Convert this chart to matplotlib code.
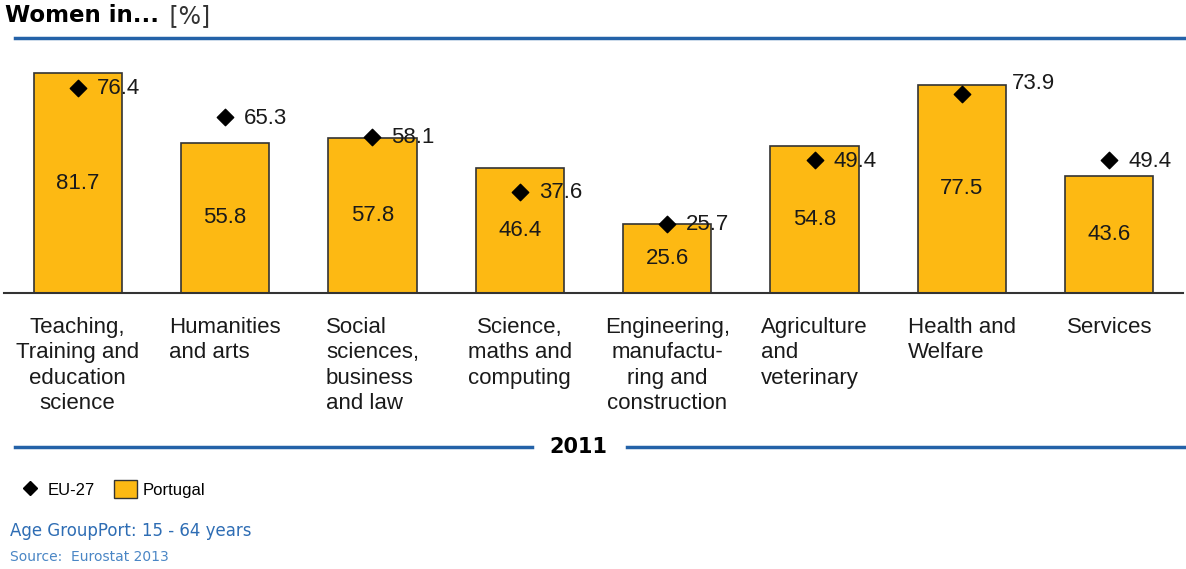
import matplotlib.pyplot as plt
from matplotlib.lines import Line2D
from matplotlib.patches import Patch

categories = ['Teaching,\nTraining and\neducation\nscience', 'Humanities\nand arts',
              'Social\nsciences,\nbusiness\nand law', 'Science,\nmaths and\ncomputing',
              'Engineering,\nmanufactu-\nring and\nconstruction', 'Agriculture\nand\nveterinary',
              'Health and\nWelfare', 'Services']
portugal = [81.7, 55.8, 57.8, 46.4, 25.6, 54.8, 77.5, 43.6]
eu27 = [76.4, 65.3, 58.1, 37.6, 25.7, 49.4, 73.9, 49.4]
label_align = ['center', 'left', 'left', 'center', 'center', 'left', 'left', 'center']

gold = '#FDB913'
blue = '#2462A8'

fig = plt.figure(figsize=(11.86, 5.69), dpi=100)
ax = fig.add_axes([0.0034, 1 - 293 / 569, 0.994, 242 / 569])

x = list(range(len(categories)))
ax.bar(x, portugal, width=0.6, color=gold, edgecolor='#333333', linewidth=1.2, zorder=2)
ax.scatter(x, eu27, marker='D', s=70, color='black', zorder=3)

for i in x:
    ax.text(i, portugal[i] / 2, f'{portugal[i]:.1f}', ha='center', va='center',
            fontsize=16, family='Liberation Sans', color='#1a1a1a', zorder=4)
    dx, dy = (50, 11) if i == 6 else (19, -1)
    ax.annotate(f'{eu27[i]:.1f}', xy=(i, eu27[i]), xytext=(dx, dy), textcoords='offset pixels',
                ha='left', va='center', fontsize=16, family='Liberation Sans',
                color='#1a1a1a', zorder=4)
    ax.annotate(categories[i], xy=(i, 0), xytext=(0, -24), textcoords='offset pixels',
                ha='center', va='top', fontsize=16, family='Liberation Sans',
                multialignment=label_align[i], linespacing=1.28, color='#1a1a1a',
                annotation_clip=False)

ax.set_xlim(-0.5, 7.5)
ax.set_ylim(0, 90)
for s in ['top', 'left', 'right']:
    ax.spines[s].set_visible(False)
ax.spines['bottom'].set_linewidth(1.5)
ax.spines['bottom'].set_color('#333333')
ax.set_xticks([])
ax.set_yticks([])

# title and separator lines
fig.text(5 / 1186, 1 - 16 / 569, 'Women in...', fontsize=16.5, fontweight='bold',
         family='DejaVu Sans', va='center', ha='left')
fig.text(162 / 1186, 1 - 16 / 569, ' [%]', fontsize=17, family='DejaVu Sans',
         va='center', ha='left', color='#333333')
fig.add_artist(Line2D([15 / 1186, 1], [1 - 38 / 569] * 2, color=blue, lw=2.5))
fig.add_artist(Line2D([15 / 1186, 532 / 1186], [1 - 447 / 569] * 2, color=blue, lw=2.5))
fig.add_artist(Line2D([627 / 1186, 1], [1 - 447 / 569] * 2, color=blue, lw=2.5))
fig.text(578 / 1186, 1 - 447 / 569, '2011', fontsize=15, fontweight='bold',
         family='DejaVu Sans', ha='center', va='center')

handles = [Line2D([], [], marker='D', color='black', linestyle='none', markersize=7),
           Patch(facecolor=gold, edgecolor='#333333')]
fig.legend(handles, ['EU-27', 'Portugal'], loc='center left',
           bbox_to_anchor=(18 / 1186, 1 - 489 / 569), ncol=2, frameon=False,
           prop={'family': 'Liberation Sans', 'size': 12}, handlelength=1.38,
           handleheight=1.2, handletextpad=0.38, columnspacing=1.15,
           borderpad=0, borderaxespad=0)

fig.text(10 / 1186, 1 - 531 / 569, 'Age GroupPort: 15 - 64 years', fontsize=12,
         family='DejaVu Sans', color='#2E6DB4', va='center')
fig.text(10 / 1186, 1 - 557 / 569, 'Source:  Eurostat 2013', fontsize=10,
         family='DejaVu Sans', color='#4A86C5', va='center')

plt.savefig('out.png', dpi=100)
